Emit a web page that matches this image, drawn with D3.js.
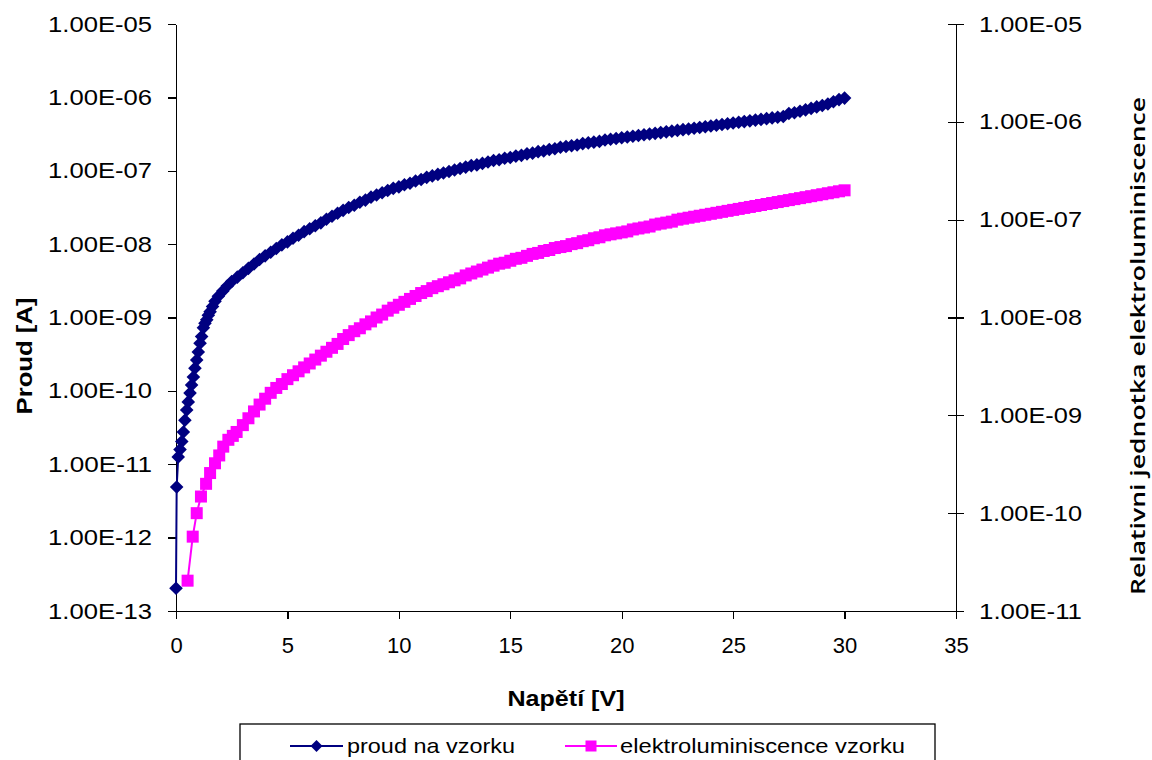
<!DOCTYPE html>
<html>
<head>
<meta charset="utf-8">
<script src="https://cdn.jsdelivr.net/npm/d3@7"></script>
<style>
  body { margin: 0; background: #fff; }
  svg { display: block; }
  .axis path, .axis line { stroke: #000; stroke-width: 1.3; shape-rendering: crispEdges; }
  .axis text { font-family: "Liberation Sans", Arial, sans-serif; font-size: 22px; fill: #000; }
</style>
</head>
<body>
<svg width="1152" height="760"></svg>
<script>
// voltage grid shared by both series from 2.5 V on (0.25 V steps)
const gridVolts = [
  2.5, 2.75, 3, 3.25, 3.5, 3.75, 4, 4.25, 4.5, 4.75,
  5, 5.25, 5.5, 5.75, 6, 6.25, 6.5, 6.75, 7, 7.25,
  7.5, 7.75, 8, 8.25, 8.5, 8.75, 9, 9.25, 9.5, 9.75,
  10, 10.25, 10.5, 10.75, 11, 11.25, 11.5, 11.75, 12, 12.25,
  12.5, 12.75, 13, 13.25, 13.5, 13.75, 14, 14.25, 14.5, 14.75,
  15, 15.25, 15.5, 15.75, 16, 16.25, 16.5, 16.75, 17, 17.25,
  17.5, 17.75, 18, 18.25, 18.5, 18.75, 19, 19.25, 19.5, 19.75,
  20, 20.25, 20.5, 20.75, 21, 21.25, 21.5, 21.75, 22, 22.25,
  22.5, 22.75, 23, 23.25, 23.5, 23.75, 24, 24.25, 24.5, 24.75,
  25, 25.25, 25.5, 25.75, 26, 26.25, 26.5, 26.75, 27, 27.25,
  27.5, 27.75, 28, 28.25, 28.5, 28.75, 29, 29.25, 29.5, 29.75,
  30
];

// proud na vzorku: voltage [V] and log10 of current [A]
const currentVoltsLow = [
  0, 0.03, 0.1, 0.18, 0.26, 0.33, 0.40, 0.48, 0.55, 0.63,
  0.70, 0.78, 0.85, 0.93, 1.00, 1.08, 1.15, 1.23, 1.30, 1.38,
  1.45, 1.53, 1.64, 1.75, 1.9, 2.1, 2.3
];
const currentExpLow = [
  -12.69, -11.31, -10.90, -10.80, -10.69, -10.56, -10.40, -10.26, -10.15, -10.03,
  -9.92, -9.81, -9.69, -9.58, -9.47, -9.35, -9.26, -9.14, -9.08, -9.03,
  -8.97, -8.92, -8.85, -8.78, -8.71, -8.64, -8.57
];
const currentExpGrid = [
  -8.51, -8.45, -8.39, -8.33, -8.27, -8.21, -8.16, -8.11, -8.06, -8.01,
  -7.97, -7.92, -7.88, -7.83, -7.79, -7.75, -7.71, -7.66, -7.62, -7.58,
  -7.54, -7.50, -7.47, -7.43, -7.40, -7.36, -7.33, -7.30, -7.27, -7.24,
  -7.22, -7.19, -7.17, -7.14, -7.12, -7.09, -7.07, -7.05, -7.03, -7.01,
  -6.99, -6.97, -6.95, -6.93, -6.92, -6.90, -6.88, -6.86, -6.85, -6.83,
  -6.82, -6.80, -6.79, -6.77, -6.76, -6.74, -6.73, -6.71, -6.70, -6.68,
  -6.67, -6.66, -6.65, -6.63, -6.62, -6.61, -6.60, -6.58, -6.57, -6.56,
  -6.55, -6.54, -6.53, -6.52, -6.51, -6.50, -6.49, -6.48, -6.47, -6.46,
  -6.45, -6.44, -6.43, -6.42, -6.41, -6.40, -6.39, -6.38, -6.37, -6.36,
  -6.35, -6.34, -6.33, -6.32, -6.31, -6.30, -6.29, -6.28, -6.27, -6.26,
  -6.22, -6.21, -6.19, -6.17, -6.15, -6.13, -6.11, -6.09, -6.06, -6.03,
  -6.01
];

// elektroluminiscence vzorku: voltage [V] and log10 of relative units
const elVoltsLow = [0.52, 0.75, 0.93, 1.12, 1.35, 1.53, 1.75, 1.94, 2.12, 2.35, 2.55, 2.72];
const elExpLow = [-10.69, -10.24, -10.00, -9.83, -9.70, -9.59, -9.49, -9.41, -9.32, -9.25, -9.21, -9.17];
const elExpGrid = [ // from 3.0 V
  -9.10, -9.03, -8.96, -8.89, -8.83, -8.77, -8.72, -8.68, -8.63, -8.59,
  -8.55, -8.51, -8.47, -8.43, -8.39, -8.35, -8.31, -8.27, -8.22, -8.18,
  -8.14, -8.11, -8.07, -8.04, -8.00, -7.97, -7.93, -7.90, -7.87, -7.84,
  -7.81, -7.78, -7.75, -7.73, -7.70, -7.68, -7.66, -7.64, -7.62, -7.60,
  -7.57, -7.55, -7.53, -7.51, -7.49, -7.47, -7.45, -7.44, -7.42, -7.40,
  -7.39, -7.37, -7.35, -7.34, -7.32, -7.31, -7.29, -7.28, -7.27, -7.25,
  -7.24, -7.22, -7.21, -7.19, -7.18, -7.16, -7.15, -7.14, -7.13, -7.12,
  -7.10, -7.09, -7.08, -7.07, -7.05, -7.04, -7.03, -7.02, -7.00, -6.99,
  -6.98, -6.97, -6.96, -6.95, -6.94, -6.93, -6.92, -6.91, -6.90, -6.89,
  -6.88, -6.87, -6.86, -6.85, -6.84, -6.83, -6.82, -6.81, -6.80, -6.79,
  -6.78, -6.77, -6.76, -6.75, -6.74, -6.73, -6.72, -6.71, -6.70
];

// axis ticks and labels
const xTicks = [0, 5, 10, 15, 20, 25, 30, 35];
const leftTicks = [1e-13, 1e-12, 1e-11, 1e-10, 1e-9, 1e-8, 1e-7, 1e-6, 1e-5];
const leftTickLabels = ["1.00E-13", "1.00E-12", "1.00E-11", "1.00E-10", "1.00E-09",
  "1.00E-08", "1.00E-07", "1.00E-06", "1.00E-05"];
const rightTicks = [1e-11, 1e-10, 1e-9, 1e-8, 1e-7, 1e-6, 1e-5];
const rightTickLabels = ["1.00E-11", "1.00E-10", "1.00E-09", "1.00E-08",
  "1.00E-07", "1.00E-06", "1.00E-05"];
const seriesNames = ["proud na vzorku", "elektroluminiscence vzorku"];

const colors = { current: "#000080", el: "#ff00ff" };

const svg = d3.select("svg");

const plot = { left: 176, right: 956, top: 24, bottom: 611 };

const x = d3.scaleLinear().domain([0, 35]).range([plot.left, plot.right]);
const yLeft = d3.scaleLog().domain([1e-13, 1e-5]).range([plot.bottom, plot.top]);
const yRight = d3.scaleLog().domain([1e-11, 1e-5]).range([plot.bottom, plot.top]);

// build point lists
const currentPoints = currentVoltsLow.map((v, i) => ({ v: v, val: Math.pow(10, currentExpLow[i]) }))
  .concat(gridVolts.map((v, i) => ({ v: v, val: Math.pow(10, currentExpGrid[i]) })));
const elPoints = elVoltsLow.map((v, i) => ({ v: v, val: Math.pow(10, elExpLow[i]) }))
  .concat(gridVolts.slice(2).map((v, i) => ({ v: v, val: Math.pow(10, elExpGrid[i]) })));

// axes
const gx = svg.append("g")
  .attr("class", "axis")
  .attr("transform", `translate(0,${plot.bottom})`)
  .call(d3.axisBottom(x).tickValues(xTicks).tickSizeInner(8).tickSizeOuter(0).tickPadding(18));

const gl = svg.append("g")
  .attr("class", "axis")
  .attr("transform", `translate(${plot.left},0)`)
  .call(d3.axisLeft(yLeft).tickValues(leftTicks)
    .tickFormat((d, i) => leftTickLabels[i])
    .tickSizeInner(8).tickSizeOuter(0).tickPadding(16));
gl.selectAll("text").attr("textLength", 104).attr("lengthAdjust", "spacingAndGlyphs");

const gr = svg.append("g")
  .attr("class", "axis")
  .attr("transform", `translate(${plot.right},0)`)
  .call(d3.axisRight(yRight).tickValues(rightTicks)
    .tickFormat((d, i) => rightTickLabels[i])
    .tickSizeInner(8).tickSizeOuter(0).tickPadding(15));
gr.selectAll(".tick line").attr("x1", -8);
gr.selectAll("text").attr("textLength", 103).attr("lengthAdjust", "spacingAndGlyphs");

// axis titles
svg.append("text")
  .attr("x", x(17.5)).attr("y", 706)
  .attr("text-anchor", "middle")
  .attr("font-family", "Liberation Sans, Arial, sans-serif")
  .attr("font-weight", "bold").attr("font-size", 22)
  .attr("textLength", 117).attr("lengthAdjust", "spacingAndGlyphs")
  .text("Napětí [V]");

svg.append("text")
  .attr("transform", "translate(32,356) rotate(-90)")
  .attr("text-anchor", "middle")
  .attr("font-family", "Liberation Sans, Arial, sans-serif")
  .attr("font-weight", "bold").attr("font-size", 22)
  .attr("textLength", 117).attr("lengthAdjust", "spacingAndGlyphs")
  .text("Proud [A]");

svg.append("text")
  .attr("transform", "translate(1145,346) rotate(-90)")
  .attr("text-anchor", "middle")
  .attr("font-family", "Open Sans, Lato, sans-serif")
  .attr("font-size", 20).attr("font-weight", 600)
  .attr("textLength", 498).attr("lengthAdjust", "spacingAndGlyphs")
  .text("Relativni jednotka elektroluminiscence");

// series
const diamond = s => `M0,${-s}L${s},0L0,${s}L${-s},0Z`;
const lineCurrent = d3.line().x(d => x(d.v)).y(d => yLeft(d.val));
const lineEl = d3.line().x(d => x(d.v)).y(d => yRight(d.val));

const gEl = svg.append("g");
gEl.append("path")
  .datum(elPoints)
  .attr("d", lineEl)
  .attr("fill", "none").attr("stroke", colors.el).attr("stroke-width", 2);
gEl.selectAll("rect")
  .data(elPoints)
  .enter().append("rect")
  .attr("x", d => x(d.v) - 6)
  .attr("y", d => yRight(d.val) - 6)
  .attr("width", 12).attr("height", 12)
  .attr("fill", colors.el);

const gCur = svg.append("g");
gCur.append("path")
  .datum(currentPoints)
  .attr("d", lineCurrent)
  .attr("fill", "none").attr("stroke", colors.current).attr("stroke-width", 2);
gCur.selectAll("path.pt")
  .data(currentPoints)
  .enter().append("path")
  .attr("class", "pt")
  .attr("d", diamond(6.8))
  .attr("transform", d => `translate(${x(d.v)},${yLeft(d.val)})`)
  .attr("fill", colors.current);

// legend
const legend = svg.append("g");
legend.append("rect")
  .attr("x", 240).attr("y", 724).attr("width", 695).attr("height", 60)
  .attr("fill", "#fff").attr("stroke", "#000").attr("stroke-width", 1.3);

const legendItems = [
  { name: seriesNames[0], color: colors.current, x0: 290, x1: 343, tx: 347, tw: 168, shape: "diamond" },
  { name: seriesNames[1], color: colors.el, x0: 565, x1: 617, tx: 620, tw: 285, shape: "square" }
];
const ly = 746;
legendItems.forEach(it => {
  legend.append("line")
    .attr("x1", it.x0).attr("x2", it.x1).attr("y1", ly).attr("y2", ly)
    .attr("stroke", it.color).attr("stroke-width", 2);
  const cx = (it.x0 + it.x1) / 2;
  if (it.shape === "diamond") {
    legend.append("path").attr("d", diamond(6))
      .attr("transform", `translate(${cx},${ly})`).attr("fill", it.color);
  } else {
    legend.append("rect").attr("x", cx - 5.5).attr("y", ly - 5.5)
      .attr("width", 11).attr("height", 11).attr("fill", it.color);
  }
  legend.append("text")
    .attr("x", it.tx).attr("y", ly + 7)
    .attr("font-family", "Liberation Sans, Arial, sans-serif")
    .attr("font-size", 21)
    .attr("textLength", it.tw).attr("lengthAdjust", "spacingAndGlyphs")
    .text(it.name);
});
</script>
</body>
</html>
